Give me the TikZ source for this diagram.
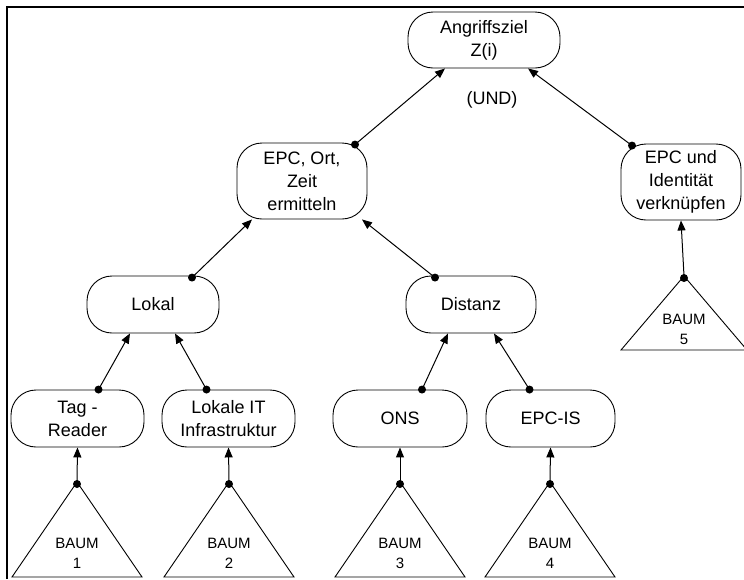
\documentclass[tikz,border=0pt]{standalone}
\usepackage{fontspec}
\setmainfont{Liberation Sans}
\usetikzlibrary{arrows.meta,calc}

\tikzset{
  goal/.style={draw, line width=0.9pt, rounded corners=25pt, inner sep=0pt,
    align=center, font=\fontsize{18}{23}\selectfont},
  tree/.style={draw, line width=0.9pt},
  treelabel/.style={align=center, inner sep=0pt, font=\fontsize{15}{20}\selectfont},
  link/.style={line width=1pt, -{Triangle[length=10pt,width=8pt]}},
  knot/.style={fill=black},
}

\begin{document}
\begin{tikzpicture}[x=1pt,y=-1pt]
\useasboundingbox (0,0) rectangle (744,579);

% frame
\draw[line width=2.5pt] (7,579) -- (7,7) -- (744,7);

% goal nodes
\node[goal, minimum width=152pt, minimum height=56pt] (ziel) at (484,40) {Angriffsziel\\Z(i)};
\node[font=\fontsize{18}{23}\selectfont] (und) at (492,100) {(UND)};
\node[goal, minimum width=130pt, minimum height=76pt] (epc) at (302,181) {EPC, Ort,\\Zeit\\ermitteln};
\node[goal, minimum width=120pt, minimum height=76pt] (verk) at (681,182) {EPC und\\Identität\\verknüpfen};
\node[goal, minimum width=132pt, minimum height=57pt] (lokal) at (153,304.5) {Lokal};
\node[goal, minimum width=130pt, minimum height=57pt] (dist) at (471,304.5) {Distanz};
\node[goal, minimum width=133pt, minimum height=57pt] (tag) at (77.5,418.5) {Tag -\\Reader};
\node[goal, minimum width=133pt, minimum height=57pt] (lit) at (228.5,418.5) {Lokale IT\\Infrastruktur};
\node[goal, minimum width=134pt, minimum height=57pt] (ons) at (400,418.5) {ONS};
\node[goal, minimum width=129pt, minimum height=57pt] (epcis) at (550.5,418.5) {EPC-IS};

% subtrees
\foreach \n/\x in {1/77,2/229,3/400,4/550} {
  \coordinate (t\n) at (\x,482);
  \draw[tree] (t\n) -- ++(-65,95) -- ++(130,0) -- cycle;
  \node[treelabel] (b\n) at (\x,553) {BAUM\\\n};
}
\coordinate (t5) at (684,276);
\draw[tree] (t5) -- ++(-63,74) -- ++(126,0) -- cycle;
\node[treelabel] (b5) at (684,329) {BAUM\\5};

% connectors: dot at the child, arrow at the parent
\draw[link] ($(epc.north)+(53,2)$) -- ($(ziel.south)+(-39,0)$);
\draw[link] ($(verk.north)+(-49,2)$) -- ($(ziel.south)+(44,0)$);
\draw[link] ($(lokal.north)+(39,2)$) -- ($(epc.south)+(-50,0)$);
\draw[link] ($(dist.north)+(-36,2)$) -- ($(epc.south)+(60,0)$);
\draw[link] ($(tag.north)+(21,0)$) -- ($(lokal.south)+(-23,0)$);
\draw[link] ($(lit.north)+(-22,0)$) -- ($(lokal.south)+(22,0)$);
\draw[link] ($(ons.north)+(22,0)$) -- ($(dist.south)+(-23,0)$);
\draw[link] ($(epcis.north)+(-21,0)$) -- ($(dist.south)+(23,0)$);
\fill[knot] ($(epc.north)+(53,2)$) circle (4pt);
\fill[knot] ($(verk.north)+(-49,2)$) circle (4pt);
\fill[knot] ($(lokal.north)+(39,2)$) circle (4pt);
\fill[knot] ($(dist.north)+(-36,2)$) circle (4pt);
\fill[knot] ($(tag.north)+(21,0)$) circle (4pt);
\fill[knot] ($(lit.north)+(-22,0)$) circle (4pt);
\fill[knot] ($(ons.north)+(22,0)$) circle (4pt);
\fill[knot] ($(epcis.north)+(-21,0)$) circle (4pt);

\foreach \n/\b in {1/tag,2/lit,3/ons,4/epcis,5/verk} {
  \draw[link] (t\n) -- (\b.south);
  \fill[knot] ([yshift=-2pt]t\n) circle (4pt);
}
\end{tikzpicture}
\end{document}
